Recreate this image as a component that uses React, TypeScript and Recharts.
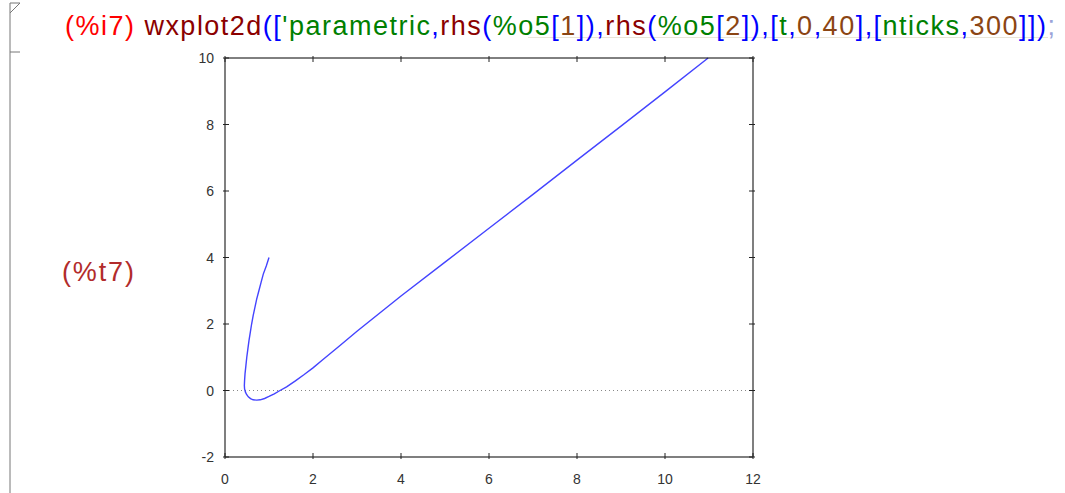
import React from 'react';
import { LineChart, Line, XAxis, YAxis, ReferenceLine } from 'recharts';

// parametric curve, in t order
const curveX = [1.0, 0.94, 0.87, 0.82, 0.77, 0.72, 0.68, 0.64, 0.605, 0.575, 0.545, 0.52, 0.495, 0.475, 0.455, 0.445, 0.44, 0.445, 0.465, 0.49, 0.53, 0.58, 0.64, 0.72, 0.8, 0.9, 1.0, 1.12, 1.25, 1.4, 1.6, 1.8, 2.0, 2.2, 2.6, 3.0, 4.0, 5.0, 6.0, 7.0, 8.0, 9.0, 10.0, 10.98];
const curveY = [4.0, 3.75, 3.5, 3.25, 3.0, 2.75, 2.5, 2.25, 2.0, 1.75, 1.5, 1.25, 1.0, 0.75, 0.5, 0.3, 0.15, 0.05, -0.05, -0.12, -0.19, -0.245, -0.28, -0.29, -0.28, -0.24, -0.18, -0.1, 0.0, 0.11, 0.29, 0.48, 0.68, 0.9, 1.34, 1.78, 2.84, 3.86, 4.88, 5.9, 6.93, 7.95, 8.98, 10.0];

const xTicks = [0, 2, 4, 6, 8, 10, 12];
const yTicks = [-2, 0, 2, 4, 6, 8, 10];

const data = curveX.map((x, i) => ({ x, y: curveY[i] }));

const RED = '#ff0000';
const MAROON = '#8b0000';
const BLUE = '#0000ff';
const GREEN = '#008000';
const BROWN = '#8b4513';

const inputTokens: [string, string][] = [
  ['(%i7) ', RED],
  ['wxplot2d', MAROON],
  ['([', BLUE],
  ["'parametric", GREEN],
  [',', BLUE],
  ['rhs', MAROON],
  ['(', BLUE],
  ['%o5', GREEN],
  ['[', BLUE],
  ['1', BROWN],
  ['])', BLUE],
  [',', BLUE],
  ['rhs', MAROON],
  ['(', BLUE],
  ['%o5', GREEN],
  ['[', BLUE],
  ['2', BROWN],
  ['])', BLUE],
  [',[', BLUE],
  ['t', GREEN],
  [',', BLUE],
  ['0', BROWN],
  [',', BLUE],
  ['40', BROWN],
  ['],[', BLUE],
  ['nticks', GREEN],
  [',', BLUE],
  ['300', BROWN],
  [']])', BLUE],
  [';', '#9aa4d8'],
];

const FONT = '"Liberation Sans", Arial, sans-serif';

const BottomTick = (props: any) => {
  const { x, y, payload } = props;
  return (
    <g>
      <line x1={x} x2={x} y1={y} y2={y - 6} stroke="#222" />
      <text x={x} y={y + 25} textAnchor="middle" fontSize={14} fill="#333" fontFamily={FONT}>
        {payload.value}
      </text>
    </g>
  );
};

const LeftTick = (props: any) => {
  const { x, y, payload } = props;
  return (
    <g>
      <line x1={x} x2={x + 6} y1={y} y2={y} stroke="#222" />
      <text x={x - 9} y={y + 5} textAnchor="end" fontSize={14} fill="#333" fontFamily={FONT}>
        {payload.value}
      </text>
    </g>
  );
};

const TopTick = (props: any) => {
  const { x, y } = props;
  return <line x1={x} x2={x} y1={y} y2={y + 6} stroke="#222" />;
};

const RightTick = (props: any) => {
  const { x, y } = props;
  return <line x1={x} x2={x - 6} y1={y} y2={y} stroke="#222" />;
};

export default function App() {
  return (
    <div style={{ position: 'absolute', left: 0, top: 0, width: 1065, height: 493, background: '#fff', overflow: 'hidden' }}>
      <svg width={1065} height={493} style={{ position: 'absolute', left: 0, top: 0 }}>
        <polyline points="10,493 10,3 20,3 10,13" fill="none" stroke="#777" />
        <line x1={10} x2={20} y1={52} y2={52} stroke="#777" />
        <line x1={528} x2={1048} y1={37.5} y2={37.5} stroke="#e9e5d8" />
        <text x={65} y={35} fontSize={27} fontFamily={FONT} textLength={990} lengthAdjust="spacing">
          {inputTokens.map(([t, c], i) => (
            <tspan key={i} fill={c}>{t}</tspan>
          ))}
        </text>
        <text x={62} y={281} fontSize={27} fontFamily={FONT} fill="#b22b2b" textLength={72} lengthAdjust="spacing">
          (%t7)
        </text>
      </svg>
      <div style={{ position: 'absolute', left: 180, top: 45 }}>
        <LineChart width={600} height={445} data={data} margin={{ top: 12, right: 26, bottom: 3, left: 5 }}>
          <XAxis
            dataKey="x"
            type="number"
            domain={[0, 12]}
            ticks={xTicks}
            interval={0}
            tickSize={0}
            tickLine={false}
            height={30}
            stroke="#555"
            strokeWidth={1.5}
            tick={<BottomTick />}
          />
          <XAxis
            xAxisId="top"
            dataKey="x"
            orientation="top"
            type="number"
            domain={[0, 12]}
            ticks={xTicks}
            interval={0}
            tickSize={0}
            tickLine={false}
            height={1}
            stroke="#000"
            tick={<TopTick />}
          />
          <YAxis
            type="number"
            domain={[-2, 10]}
            ticks={yTicks}
            interval={0}
            tickSize={0}
            tickLine={false}
            width={40}
            stroke="#555"
            strokeWidth={1.5}
            tick={<LeftTick />}
          />
          <YAxis
            yAxisId="right"
            orientation="right"
            type="number"
            domain={[-2, 10]}
            ticks={yTicks}
            interval={0}
            tickSize={0}
            tickLine={false}
            width={1}
            stroke="#555"
            strokeWidth={1.5}
            tick={<RightTick />}
          />
          <ReferenceLine y={0} stroke="#888" strokeDasharray="1 3" />
          {/* invisible copy so the mirrored border axes get a domain */}
          <Line
            xAxisId="top"
            yAxisId="right"
            dataKey="y"
            stroke="none"
            dot={false}
            activeDot={false}
            legendType="none"
            isAnimationActive={false}
          />
          <Line
            dataKey="y"
            type="linear"
            stroke="#4444ff"
            strokeWidth={1.4}
            dot={false}
            isAnimationActive={false}
          />
        </LineChart>
      </div>
    </div>
  );
}
